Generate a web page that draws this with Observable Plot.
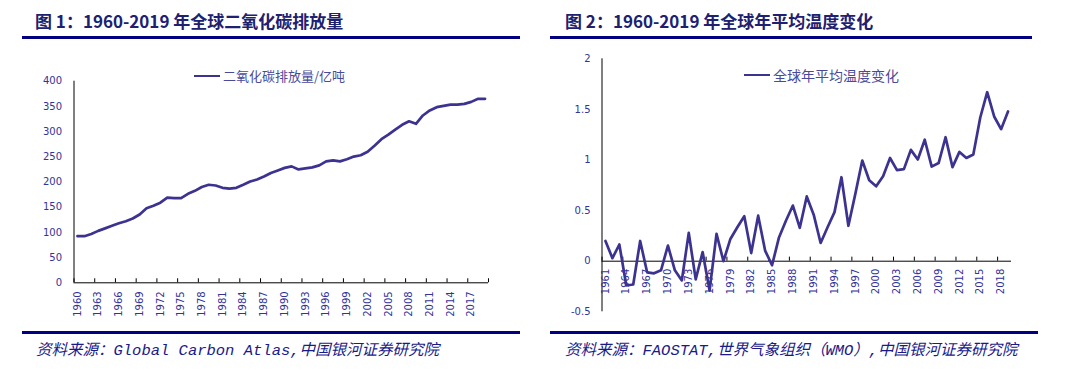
<!DOCTYPE html>
<html>
<head>
<meta charset="utf-8">
<script src="https://cdn.jsdelivr.net/npm/d3@7"></script>
<script src="https://cdn.jsdelivr.net/npm/@observablehq/plot@0.6"></script>
<style>
  html, body { margin: 0; padding: 0; background: #fff; }
  #page { position: relative; width: 1070px; height: 388px; overflow: hidden; background: #fff; }
  .title { position: absolute; top: 8px; font-family: "Noto Sans CJK SC", "Noto Sans", sans-serif; font-weight: bold; font-size: 17px; color: #202070; white-space: nowrap; line-height: 26px; }
  .rule { position: absolute; height: 3px; background: #000080; }
  .source { position: absolute; top: 340px; font-family: "Liberation Mono", "Noto Sans CJK SC", monospace; font-style: italic; font-size: 15.5px; color: #1a1a8a; white-space: nowrap; line-height: 22px; }
  .chart { position: absolute; top: 45px; }
  .legend { position: absolute; display: flex; align-items: center; font-family: "Noto Sans CJK SC", sans-serif; color: #4a4a9a; white-space: nowrap; }
  .legend .sw { display: inline-block; width: 26px; height: 2.5px; background: #3c3391; margin-right: 3px; }
</style>
</head>
<body>
<div id="page">
  <div class="title" style="left:35px;">图 1：1960-2019 年全球二氧化碳排放量</div>
  <div class="rule" style="left:22px; width:498px; top:36px;"></div>
  <div class="title" style="left:565px;">图 2：1960-2019 年全球年平均温度变化</div>
  <div class="rule" style="left:550px; width:482px; top:36px;"></div>

  <div id="chart1" class="chart" style="left:0px;"></div>
  <div id="chart2" class="chart" style="left:540px;"></div>

  <div class="legend" style="left:194px; top:66px; font-size:13px; line-height:20px;"><span class="sw"></span><span id="leg1"></span></div>
  <div class="legend" style="left:744px; top:65px; font-size:14px; line-height:20px;"><span class="sw"></span><span id="leg2"></span></div>

  <div class="rule" style="left:22px; width:498px; top:331px;"></div>
  <div class="rule" style="left:550px; width:488px; top:331px;"></div>
  <div class="source" style="left:36px;">资料来源：Global Carbon Atlas,中国银河证券研究院</div>
  <div class="source" style="left:565px;">资料来源：FAOSTAT,世界气象组织（WMO）,中国银河证券研究院</div>
</div>
<script>
// ---------- Data: Figure 1, global CO2 emissions (100 million tonnes) ----------
const co2Years = [1960,1961,1962,1963,1964,1965,1966,1967,1968,1969,
  1970,1971,1972,1973,1974,1975,1976,1977,1978,1979,
  1980,1981,1982,1983,1984,1985,1986,1987,1988,1989,
  1990,1991,1992,1993,1994,1995,1996,1997,1998,1999,
  2000,2001,2002,2003,2004,2005,2006,2007,2008,2009,
  2010,2011,2012,2013,2014,2015,2016,2017,2018,2019];
const co2Values = [92.5,92.5,97,103,108,113,118,122,127.5,135.5,
  148,153,159,169,168,168,176.5,182.5,190,194.5,
  193,188.5,187,188.5,194.5,201,205,211,218,223,
  228,231,225,227,229,233,241,243,241,245,
  250.5,253,260,272,285,294,304,313.5,320.5,315.5,
  332,342,348.5,351,353.5,353.5,355,359,365,365];
const co2LabelYears = [1960,1963,1966,1969,1972,1975,1978,1981,1984,1987,1990,1993,1996,1999,2002,2005,2008,2011,2014,2017];
const co2YTicks = [0,50,100,150,200,250,300,350,400];
const co2SeriesName = "二氧化碳排放量/亿吨";

// ---------- Data: Figure 2, global annual mean temperature change ----------
const tempYears = [1961,1962,1963,1964,1965,1966,1967,1968,1969,1970,
  1971,1972,1973,1974,1975,1976,1977,1978,1979,1980,
  1981,1982,1983,1984,1985,1986,1987,1988,1989,1990,
  1991,1992,1993,1994,1995,1996,1997,1998,1999,2000,
  2001,2002,2003,2004,2005,2006,2007,2008,2009,2010,
  2011,2012,2013,2014,2015,2016,2017,2018,2019];
const tempValues = [0.20,0.03,0.165,-0.24,-0.23,0.20,-0.11,-0.12,-0.09,0.155,
  -0.09,-0.19,0.28,-0.18,0.09,-0.29,0.27,0.0,0.22,0.335,
  0.445,0.08,0.45,0.105,-0.04,0.235,0.40,0.55,0.33,0.64,
  0.46,0.18,0.335,0.485,0.83,0.35,0.665,0.995,0.80,0.74,
  0.84,1.02,0.90,0.91,1.10,1.005,1.20,0.935,0.97,1.225,
  0.93,1.08,1.02,1.055,1.42,1.67,1.43,1.305,1.48];
const tempLabelYears = [1961,1964,1967,1970,1973,1976,1979,1982,1985,1988,1991,1994,1997,2000,2003,2006,2009,2012,2015,2018];
const tempYTicks = [-0.5,0,0.5,1,1.5,2];
const tempSeriesName = "全球年平均温度变化";

// ---------- Shared styles ----------
const LINE = "#3c3391";
const AXIS_TEXT = "#333399";
const FONT = "DejaVu Sans, Verdana, sans-serif";

document.getElementById("leg1").textContent = co2SeriesName;
document.getElementById("leg2").textContent = tempSeriesName;

// ---------- Chart 1 ----------
const co2Data = co2Years.map((year, i) => ({year, value: co2Values[i]}));
const co2First = co2Years[0] - 0.5, co2Last = co2Years[co2Years.length - 1] + 0.5;
const co2Bounds = co2LabelYears.map(y => y - 0.5).concat([co2Last]);

const chart1 = Plot.plot({
  width: 530,
  height: 285,
  marginLeft: 73.5,
  marginRight: 42,
  marginTop: 35.7,
  marginBottom: 47.7,
  style: {fontFamily: FONT, fontSize: "10px", color: AXIS_TEXT, background: "transparent", overflow: "visible"},
  x: {domain: [co2First, co2Last], axis: null},
  y: {domain: [0, 400], ticks: co2YTicks, tickSize: 0, tickPadding: 12, tickFormat: d => String(d), label: null},
  marks: [
    Plot.ruleX([co2First], {y1: 0, y2: 400, stroke: "#000", strokeWidth: 1}),
    Plot.ruleY([0], {x1: co2First, x2: co2Last, stroke: "#000", strokeWidth: 1}),
    Plot.ruleX(co2Bounds, {x: d => d, y1: 0, y2: 8, stroke: "#000", strokeWidth: 1}),
    Plot.text(co2LabelYears, {x: d => d, y: 0, text: d => String(d), rotate: -90, textAnchor: "end", lineAnchor: "middle", dy: 8.5, fill: AXIS_TEXT, fontSize: 10}),
    Plot.line(co2Data, {x: "year", y: "value", stroke: LINE, strokeWidth: 2.7, curve: "linear"})
  ]
});
document.getElementById("chart1").appendChild(chart1);

// ---------- Chart 2 ----------
const tempData = tempYears.map((year, i) => ({year, value: tempValues[i]}));
const tFirst = tempYears[0] - 0.5, tLast = tempYears[tempYears.length - 1] + 0.5;
const tempBounds = tempLabelYears.map(y => y - 0.5);

const chart2 = Plot.plot({
  width: 530,
  height: 285,
  marginLeft: 61.5,
  marginRight: 59,
  marginTop: 13.3,
  marginBottom: 18.7,
  style: {fontFamily: FONT, fontSize: "10px", color: AXIS_TEXT, background: "transparent", overflow: "visible"},
  x: {domain: [tFirst, tLast], axis: null},
  y: {domain: [-0.5, 2], ticks: tempYTicks, tickSize: 0, tickPadding: 11.5, tickFormat: d => String(d), label: null},
  marks: [
    Plot.ruleX([tFirst], {y1: -0.5, y2: 2, stroke: "#000", strokeWidth: 1}),
    Plot.ruleY([0], {x1: tFirst, x2: tLast, stroke: "#000", strokeWidth: 1}),
    Plot.ruleX(tempBounds, {x: d => d, y1: 0, y2: 0.04, stroke: "#000", strokeWidth: 1}),
    Plot.text(tempLabelYears, {x: d => d, y: 0, text: d => String(d), rotate: -90, textAnchor: "end", lineAnchor: "middle", dy: 7.5, fill: AXIS_TEXT, fontSize: 10}),
    Plot.line(tempData, {x: "year", y: "value", stroke: LINE, strokeWidth: 2.7, curve: "linear"})
  ]
});
document.getElementById("chart2").appendChild(chart2);
</script>
</body>
</html>
